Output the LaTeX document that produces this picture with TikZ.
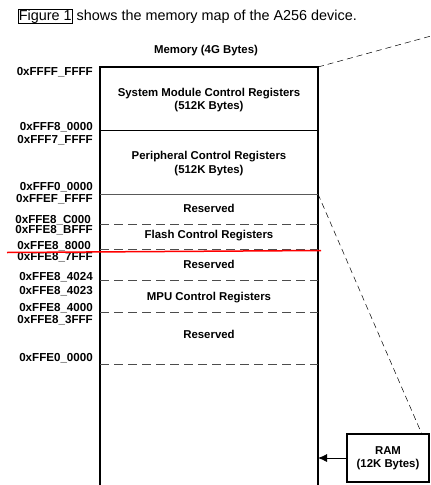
\documentclass[tikz,border=0pt]{standalone}
\usepackage{fontspec}
\setmainfont{Liberation Sans}
\usetikzlibrary{arrows.meta,positioning}

\tikzset{
	addr/.style={anchor=east,inner sep=0pt,font=\fontsize{11.6}{12}\bfseries\selectfont},
	region/.style={align=center,inner sep=0pt,font=\fontsize{11.4}{13.4}\bfseries\selectfont},
	solidsep/.style={line width=0.8pt},
	dashsep/.style={line width=0.8pt,gray!60!black,dash pattern=on 9pt off 5pt},
	zoomline/.style={line width=0.5pt,dash pattern=on 6pt off 4pt},
}

\begin{document}
\begin{tikzpicture}[x=1pt,y=-1pt]
	\useasboundingbox (0,0) rectangle (431,485);

	%caption
	\node[draw,line width=0.9pt,inner sep=0.4pt,anchor=base west,font=\fontsize{14.4}{16}\selectfont] (figref) at (18,20) {Figure 1};
	\node[inner sep=0pt,anchor=base west,font=\fontsize{14.4}{16}\selectfont] (caption) at ([xshift=4pt]figref.base east) {shows the memory map of the A256 device.};

	%title
	\node[region] (title) at (206,51) {Memory (4G Bytes)};

	%memory box
	\coordinate (memTL) at (100,67);
	\coordinate (memTR) at (318,67);
	\draw[line width=2pt] (100,490)--(memTL)--(memTR)--(318,490);

	%separators
	\draw[solidsep] (100,130.5)--(318,130.5);
	\coordinate (periBR) at (318,194);
	\draw[solidsep,gray!70!black] (100,194)--(periBR);
	\draw[dashsep] (100,224)--(318,224);
	\draw[dashsep] (100,249.5)--(318,249.5);
	\draw[dashsep] (100,280.7)--(318,280.7);
	\draw[dashsep] (100,312)--(318,312);
	\draw[dashsep] (100,364)--(318,364);

	%regions
	\node[region] (sysmod) at (209,100)   {System Module Control Registers\\(512K Bytes)};
	\node[region] (peri)   at (209,163.5) {Peripheral Control Registers\\(512K Bytes)};
	\node[region] (resA)   at (209,208)   {Reserved};
	\node[region] (flash)  at (209,236)   {Flash Control Registers};
	\node[region] (resB)   at (209,264.7) {Reserved};
	\node[region] (mpu)    at (209,298)   {MPU Control Registers};
	\node[region] (resC)   at (209,334)   {Reserved};

	%addresses
	\node[addr] (aFFFFFFFF) at (93,72.5)  {0xFFFF\_FFFF};
	\node[addr] (aFFF80000) at (93,126.7) {0xFFF8\_0000};
	\node[addr] (aFFF7FFFF) at (93,140)   {0xFFF7\_FFFF};
	\node[addr] (aFFF00000) at (93,187.5) {0xFFF0\_0000};
	\node[addr] (aFFEFFFFF) at (93,199)   {0xFFEF\_FFFF};
	\node[addr] (aFFE8C000) at (91,220.3) {0xFFE8\_C000};
	\node[addr] (aFFE8BFFF) at (93,230.5) {0xFFE8\_BFFF};
	\node[addr] (aFFE88000) at (91,246)   {0xFFE8\_8000};
	\node[addr] (aFFE87FFF) at (93,257)   {0xFFE8\_7FFF};
	\node[addr] (aFFE84024) at (93,277)   {0xFFE8\_4024};
	\node[addr] (aFFE84023) at (93,291)   {0xFFE8\_4023};
	\node[addr] (aFFE84000) at (93,307.7) {0xFFE8\_4000};
	\node[addr] (aFFE83FFF) at (93,320)   {0xFFE8\_3FFF};
	\node[addr] (aFFE00000) at (93,358)   {0xFFE0\_0000};

	%marker
	\draw[red,line width=1.5pt] (7,252.5)--(321,250.5);

	%RAM block
	\node[draw,line width=1.2pt,region,minimum width=82pt,minimum height=48pt] (ram) at (388,458) {RAM\\(12K Bytes)};
	\coordinate (ramin) at (318,458);
	\draw[line width=0.8pt,-{Latex[length=9pt,width=8pt]}] (ram.west)--(ramin);

	%zoom lines
	\coordinate (zoomtop) at (431,36);
	\draw[zoomline] (memTR)--(zoomtop);
	\draw[zoomline] (periBR)--([xshift=-8pt]ram.north east);

	%\draw[help lines] (0,0) grid (431,485);
\end{tikzpicture}
\end{document}
